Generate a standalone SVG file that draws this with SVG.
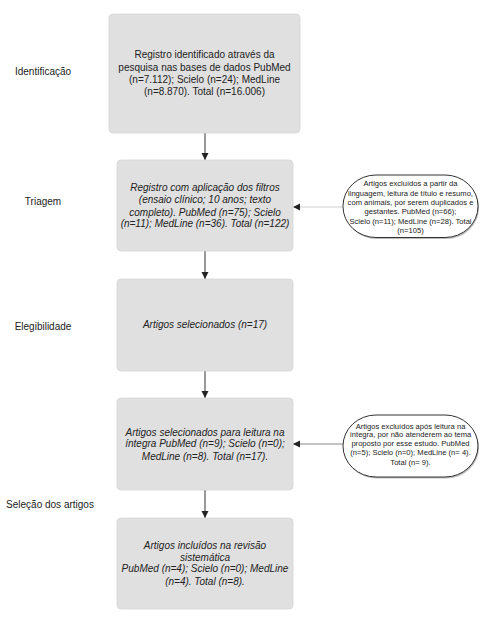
<svg xmlns="http://www.w3.org/2000/svg" width="495" height="640" viewBox="0 0 495 640">
<style>
  .box{fill:#e0e0e0;stroke:#d6d6d6;stroke-width:0.8}
  .t{font-family:"Liberation Sans",Arial,sans-serif;font-size:10px;fill:#222;text-anchor:middle}
  .i{font-style:italic}
  .s{font-family:"Liberation Sans",Arial,sans-serif;font-size:7.6px;fill:#222;text-anchor:middle}
  .lbl{font-family:"Liberation Sans",Arial,sans-serif;font-size:10px;fill:#222;text-anchor:middle}
  .oval{fill:#fff;stroke:#333;stroke-width:1}
  .vline{stroke:#555;stroke-width:1.2;fill:none}
</style>
<defs>
  <marker id="ah" markerWidth="8" markerHeight="8" refX="7" refY="4" orient="auto" markerUnits="userSpaceOnUse">
    <path d="M0,0.5 L7,4 L0,7.5 Z" fill="#222"/>
  </marker>
</defs>
<rect width="495" height="640" fill="#fff"/>
<g id="labels">
  <text class="lbl" x="43" y="75">Identificação</text>
  <text class="lbl" x="43" y="205">Triagem</text>
  <text class="lbl" x="43" y="330">Elegibilidade</text>
  <text class="lbl" x="50" y="508">Seleção dos artigos</text>
</g>
<g id="connectors">
  <line class="vline" x1="205" y1="133" x2="205" y2="160" marker-end="url(#ah)"/>
  <line class="vline" x1="205" y1="251" x2="205" y2="279" marker-end="url(#ah)"/>
  <line class="vline" x1="205" y1="371" x2="205" y2="398" marker-end="url(#ah)"/>
  <line class="vline" x1="205" y1="490" x2="205" y2="518" marker-end="url(#ah)"/>
  <line x1="343" y1="207" x2="293" y2="207" stroke="#cfcfcf" stroke-width="1" marker-end="url(#ah)"/>
  <line x1="343" y1="444" x2="293" y2="444" stroke="#888" stroke-width="1.2" marker-end="url(#ah)"/>
</g>
<g id="n1">
  <rect class="box" x="109" y="14" width="191" height="119" rx="4"/>
  <text class="t" x="204.5" y="58">Registro identificado através da</text>
  <text class="t" x="204.5" y="70.5">pesquisa nas bases de dados PubMed</text>
  <text class="t" x="204.5" y="83">(n=7.112); Scielo (n=24); MedLine</text>
  <text class="t" x="204.5" y="95">(n=8.870). Total (n=16.006)</text>
</g>
<g id="n2">
  <rect class="box" x="117" y="160" width="176" height="91" rx="4"/>
  <text class="t i" x="205" y="190.5">Registro com aplicação dos filtros</text>
  <text class="t i" x="205" y="203">(ensaio clínico; 10 anos; texto</text>
  <text class="t i" x="205" y="215.5">completo). PubMed (n=75); Scielo</text>
  <text class="t i" x="205" y="227">(n=11); MedLine (n=36). Total (n=122)</text>
</g>
<g id="n3">
  <rect class="box" x="117" y="279" width="176" height="92" rx="4"/>
  <text class="t i" x="205" y="328">Artigos selecionados (n=17)</text>
</g>
<g id="n4">
  <rect class="box" x="117" y="398" width="176" height="92" rx="4"/>
  <text class="t i" x="205" y="435.5">Artigos selecionados para leitura na</text>
  <text class="t i" x="205" y="447">íntegra PubMed (n=9); Scielo (n=0);</text>
  <text class="t i" x="205" y="459.5">MedLine (n=8). Total (n=17).</text>
</g>
<g id="n5">
  <rect class="box" x="117" y="518" width="176" height="91" rx="4"/>
  <text class="t i" x="205" y="548.5">Artigos incluídos na revisão</text>
  <text class="t i" x="205" y="560.5">sistemática</text>
  <text class="t i" x="205" y="572">PubMed (n=4); Scielo (n=0); MedLine</text>
  <text class="t i" x="205" y="584.5">(n=4). Total (n=8).</text>
</g>
<g id="e1">
  <rect x="344" y="176.5" width="135" height="62.5" rx="33" ry="31" fill="#bbb"/>
  <rect class="oval" x="343" y="175" width="135" height="62.5" rx="33" ry="31"/>
  <text class="s" x="410.5" y="186">Artigos excluídos a partir da</text>
  <text class="s" x="410.5" y="195.5">linguagem, leitura de título e resumo,</text>
  <text class="s" x="410.5" y="205">com animais, por serem duplicados e</text>
  <text class="s" x="410.5" y="214">gestantes. PubMed (n=66);</text>
  <text class="s" x="410.5" y="223.5">Scielo (n=11); MedLine (n=28). Total</text>
  <text class="s" x="410.5" y="232.5">(n=105)</text>
</g>
<g id="e2">
  <rect x="344" y="416.5" width="135" height="62" rx="33" ry="31" fill="#bbb"/>
  <rect class="oval" x="343" y="415" width="135" height="62" rx="33" ry="31"/>
  <text class="s" x="410.5" y="428.5">Artigos excluídos após leitura na</text>
  <text class="s" x="410.5" y="437">íntegra, por não atenderem ao tema</text>
  <text class="s" x="410.5" y="446">proposto por esse estudo. PubMed</text>
  <text class="s" x="410.5" y="455">(n=5); Scielo (n=0); MedLine (n= 4).</text>
  <text class="s" x="410.5" y="464.5">Total (n= 9).</text>
</g>
</svg>
